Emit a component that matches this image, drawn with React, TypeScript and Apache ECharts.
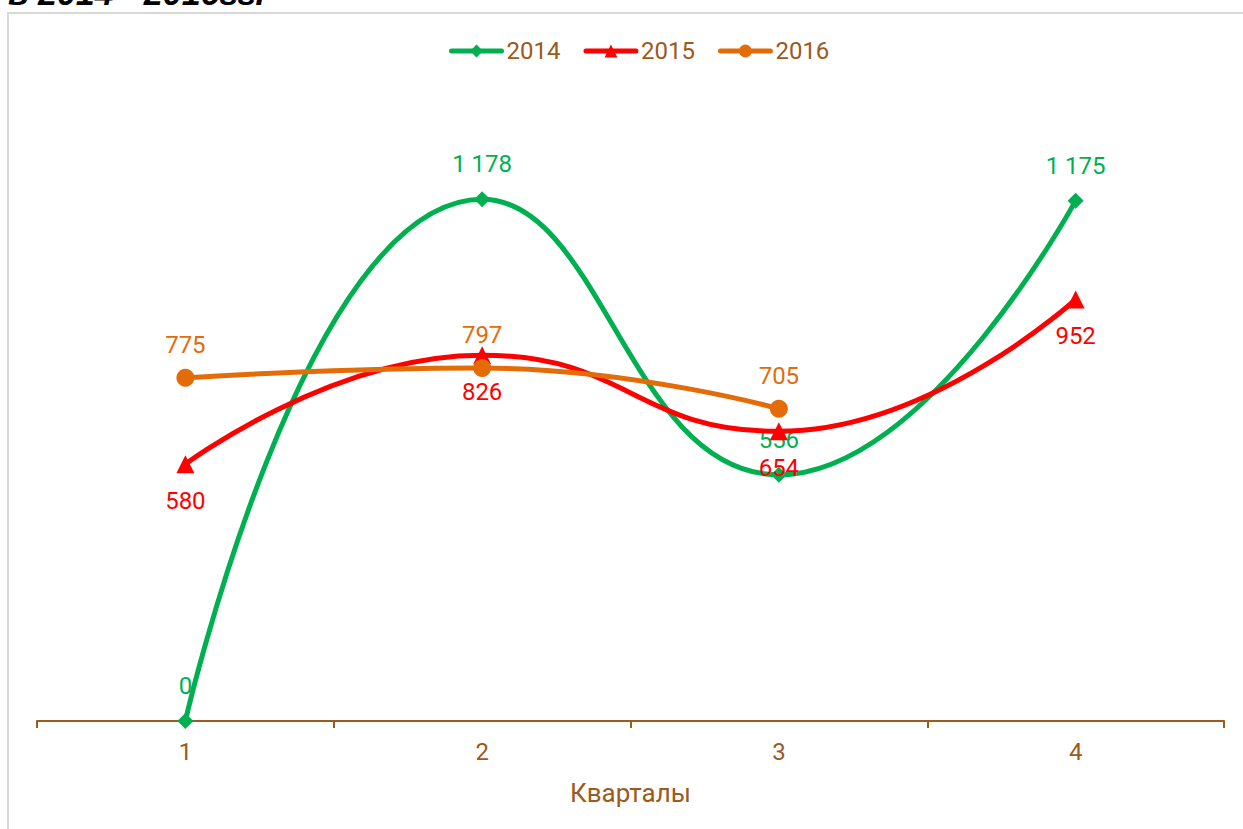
import React, { useEffect, useRef } from "react";
import * as echarts from "echarts";

const quarters = ["1", "2", "3", "4"];
const s2014 = [0, 1178, 556, 1175];
const s2015 = [580, 826, 654, 952];
const s2016 = [775, 797, 705];
const seriesNames = ["2014", "2015", "2016"];
const axisTitle = "Кварталы";
const headerText = "в 2014 - 2016гг.";

const brown = "#9C5A1C";
const fmt = (v: number) => String(v).replace(/\B(?=(\d{3})+(?!\d))/g, " ");

export default function App() {
  const ref = useRef<HTMLDivElement>(null);
  useEffect(() => {
    const chart = echarts.init(ref.current!, undefined, { renderer: "svg" });
    const lbl = (color: string, position: string, distance: number) => ({
      show: true,
      position,
      distance,
      color,
      fontSize: 24,
      fontFamily: "Roboto",
      formatter: (p: any) => fmt(p.value),
    });
    chart.setOption({
      animation: false,
      textStyle: { fontFamily: "Roboto" },
      graphic: [
        {
          type: "rect",
          shape: { x: 8, y: 13, width: 1300, height: 900 },
          style: { fill: "none", stroke: "#D9D9D9", lineWidth: 2 },
          silent: true,
        },
        {
          type: "text",
          x: 8,
          y: -24,
          style: {
            text: headerText,
            font: "italic bold 34px 'Liberation Sans', Arial",
            fill: "#000",
          },
        },
      ],
      legend: {
        top: 34,
        left: 444,
        itemWidth: 50,
        itemHeight: 16,
        itemGap: 23,
        lineStyle: { width: 5, cap: "round" },
        textStyle: { color: brown, fontSize: 24, fontFamily: "Roboto" },
        data: seriesNames,
      },
      grid: { left: 37, right: 19, top: 101, bottom: 108 },
      xAxis: {
        type: "category",
        data: quarters,
        boundaryGap: true,
        axisLine: { lineStyle: { color: brown, width: 2 } },
        axisTick: { show: true, length: 7, lineStyle: { color: brown, width: 2 } },
        axisLabel: { color: brown, fontSize: 24, fontFamily: "Roboto", margin: 19 },
        name: axisTitle,
        nameLocation: "middle",
        nameGap: 59,
        nameTextStyle: { color: brown, fontSize: 26, fontFamily: "Roboto" },
      },
      yAxis: { type: "value", min: 0, max: 1400, show: false, splitLine: { show: false } },
      series: [
        {
          name: seriesNames[0],
          type: "line",
          data: s2014,
          smooth: 0.5,
          symbol: "diamond",
          symbolSize: 16,
          itemStyle: { color: "#00B050" },
          lineStyle: { color: "#00B050", width: 5 },
          label: lbl("#00B050", "top", 15),
          z: 3,
        },
        {
          name: seriesNames[1],
          type: "line",
          data: s2015,
          smooth: 0.5,
          symbol: "triangle",
          symbolSize: 18,
          itemStyle: { color: "#FF0000" },
          lineStyle: { color: "#FF0000", width: 5 },
          label: lbl("#FF0000", "bottom", 16),
          z: 4,
        },
        {
          name: seriesNames[2],
          type: "line",
          data: s2016,
          smooth: 0.5,
          symbol: "circle",
          symbolSize: 18,
          itemStyle: { color: "#E36C09" },
          lineStyle: { color: "#E36C09", width: 5 },
          label: lbl("#E36C09", "top", 12),
          z: 5,
        },
      ],
    });
    return () => chart.dispose();
  }, []);
  return (
    <div
      ref={ref}
      style={{ position: "absolute", left: 0, top: 0, width: 1243, height: 829, background: "#fff" }}
    />
  );
}
